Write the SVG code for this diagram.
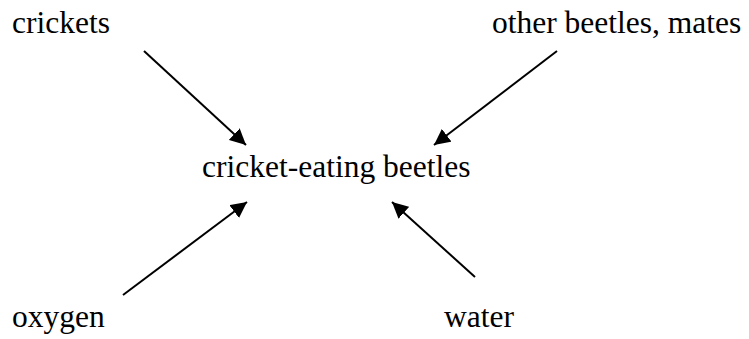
<svg xmlns="http://www.w3.org/2000/svg" width="749" height="339" viewBox="0 0 749 339">
<style>
text { font-family: 'Liberation Serif', 'Times New Roman', Times, serif; font-size: 31.5px; fill: #000; }
.c { stroke: #000; stroke-width: 2; fill: none; }
</style>
<defs>
<marker id="ah" viewBox="0 0 10 10" refX="10" refY="5" markerWidth="8" markerHeight="8" markerUnits="strokeWidth" orient="auto">
<path d="M0,0 L10,5 L0,10 z" fill="#000"/>
</marker>
</defs>
<rect width="749" height="339" fill="#fff"/>
<g id="crickets"><text x="12" y="33">crickets</text></g>
<g id="other-beetles"><text x="492" y="33">other beetles, mates</text></g>
<g id="beetles"><text x="202" y="177">cricket-eating beetles</text></g>
<g id="oxygen"><text x="12" y="327">oxygen</text></g>
<g id="water"><text x="444" y="327">water</text></g>
<g id="connectors">
<line class="c" x1="144" y1="51" x2="246" y2="145" marker-end="url(#ah)"/>
<line class="c" x1="557" y1="51" x2="434" y2="145" marker-end="url(#ah)"/>
<line class="c" x1="123" y1="295" x2="247" y2="202" marker-end="url(#ah)"/>
<line class="c" x1="475" y1="277" x2="392" y2="202" marker-end="url(#ah)"/>
</g>
</svg>
